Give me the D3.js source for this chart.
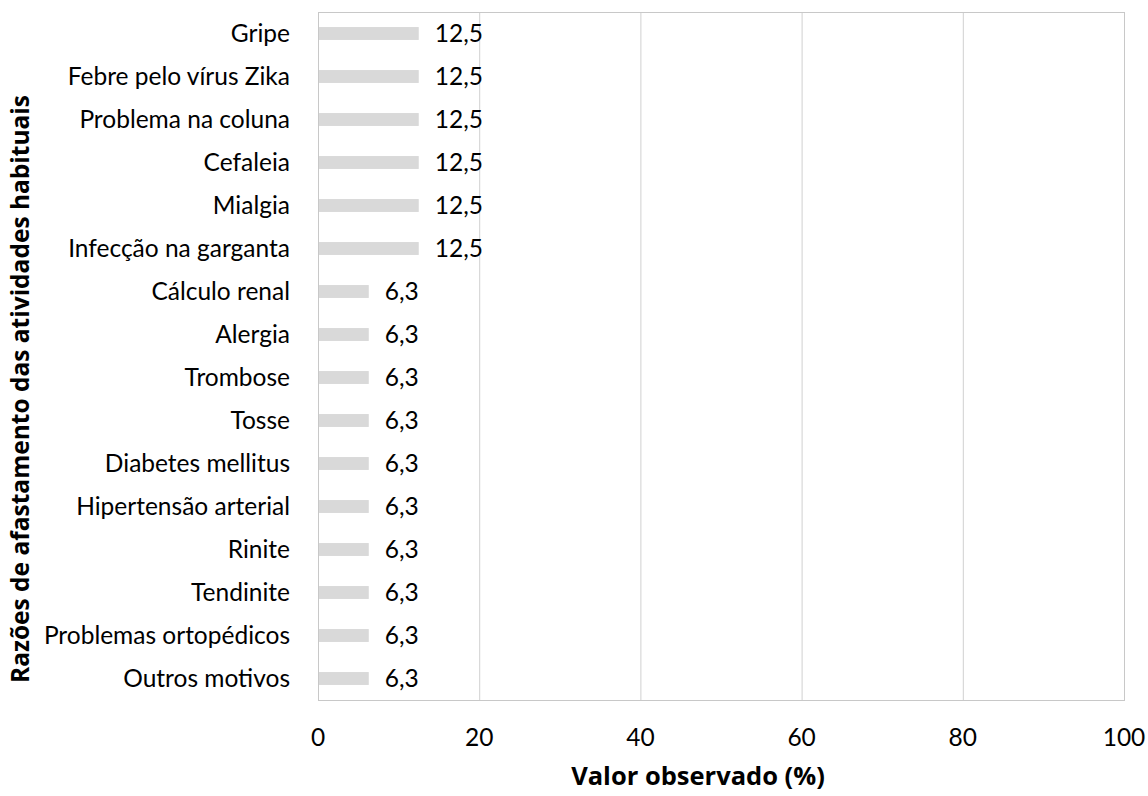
<!DOCTYPE html>
<html><head><meta charset="utf-8">
<script src="https://cdn.jsdelivr.net/npm/d3@7"></script>
<style>body{margin:0;background:#fff}svg{display:block}text{font-family:Lato,"Open Sans",sans-serif;fill:#000}.ttl{font-family:"Open Sans",Lato,sans-serif;font-weight:bold}</style>
</head><body>
<svg id="c" width="1148" height="796"></svg>
<script>
const categories = ["Gripe","Febre pelo vírus Zika","Problema na coluna","Cefaleia","Mialgia","Infecção na garganta","Cálculo renal","Alergia","Trombose","Tosse","Diabetes mellitus","Hipertensão arterial","Rinite","Tendinite","Problemas ortopédicos","Outros motivos"];
const values = [12.5,12.5,12.5,12.5,12.5,12.5,6.3,6.3,6.3,6.3,6.3,6.3,6.3,6.3,6.3,6.3];
const xTicks = [0,20,40,60,80,100];
const xTitle = "Valor observado (%)";
const yTitle = "Razões de afastamento das atividades habituais";

const svg = d3.select("#c");
const L = 318, R = 1124, T = 12, B = 700;
const x = d3.scaleLinear().domain([0,100]).range([L,R]);
const y = d3.scaleBand().domain(categories).range([T,B]).paddingInner(0.7).paddingOuter(0.35);
const fmt = v => String(v).replace(".", ",");
const grid = "#d0d0d0";
const fs = 24.5;

svg.append("g").selectAll("line").data(xTicks.slice(1)).join("line")
  .attr("x1", d=>x(d)+0.5).attr("x2", d=>x(d)+0.5).attr("y1", T).attr("y2", B)
  .attr("stroke", grid);
svg.append("rect").attr("x", L+0.5).attr("y", T+0.5).attr("width", R-L).attr("height", B-T)
  .attr("fill","none").attr("stroke", "#c8c8c8");

svg.append("g").selectAll("rect").data(categories).join("rect")
  .attr("x", x(0)+1).attr("y", d=>y(d)).attr("height", y.bandwidth())
  .attr("width", (d,i)=>x(values[i])-x(0)-1).attr("fill","#d9d9d9");

svg.append("g").selectAll("text").data(categories).join("text")
  .attr("x", (d,i)=>x(values[i])+16).attr("y", d=>y(d)+y.bandwidth()/2)
  .attr("dy","0.35em").attr("font-size",fs).text((d,i)=>fmt(values[i]));

svg.append("g").selectAll("text").data(categories).join("text")
  .attr("x", 290).attr("y", d=>y(d)+y.bandwidth()/2).attr("text-anchor","end")
  .attr("dy","0.35em").attr("font-size",fs).text(d=>d);

svg.append("g").selectAll("text").data(xTicks).join("text")
  .attr("x", d=>x(d)).attr("y", 737).attr("text-anchor","middle")
  .attr("dy","0.35em").attr("font-size",fs).text(d=>d);

svg.append("text").attr("class","ttl").attr("x", 698).attr("y", 776).attr("text-anchor","middle")
  .attr("dy","0.35em").attr("font-size",25.5).text(xTitle);

svg.append("text").attr("class","ttl").attr("transform","translate(20,389) rotate(-90)").attr("text-anchor","middle")
  .attr("dy","0.35em").attr("font-size",24.5).text(yTitle);
</script>
</body></html>
